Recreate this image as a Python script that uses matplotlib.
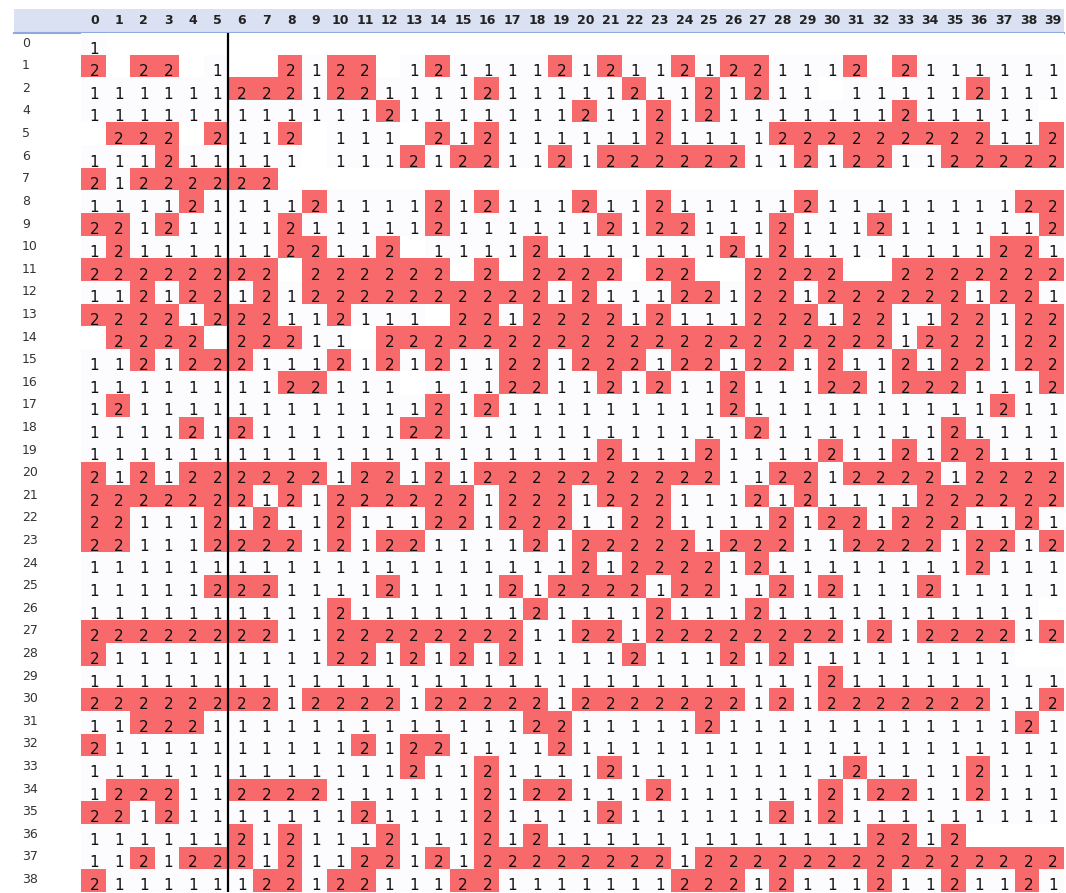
import matplotlib
matplotlib.use("Agg")
import matplotlib.pyplot as plt
import matplotlib.transforms as mtransforms
from matplotlib.colors import ListedColormap
from matplotlib.patches import Rectangle
import numpy as np

# column headers 0..39, row labels (row 3 is not in the sheet)
col_labels = list(range(40))
row_labels = [0, 1, 2] + list(range(4, 39))

# one string per row, 40 cells, '.' = empty cell (spaces only for reading)
rows = [
    "1......... .......... .......... ..........",  # 0
    "2.22.1..21 22.1211112 1211212211 12.2111111",  # 1
    "1111112221 2211112111 1121121211 .111112111",  # 2
    "1111111111 1121111111 2112121111 111211111.",  # 4
    ".222.2112. 111.212111 1112111122 2222222112",  # 5
    "111211111. 1112122112 1222222112 1221122222",  # 6
    "21222222.. .......... .......... ..........",  # 7
    "1111211112 1111212111 2112111112 1111111122",  # 8
    "2212111121 1111211111 1212211121 1121111112",  # 9
    "1211111122 112.111121 1111112121 1111111221",  # 10
    "22222222.2 22222.2.22 22.22..222 2..2222222",  # 11
    "1121221212 2222222221 2111221221 2222221221",  # 12
    "2222122211 2111.22122 2212111222 1221122122",  # 13
    ".2222.2221 1.22222222 2222222222 2221222122",  # 14
    "1121222111 2121211221 2221221221 2112122122",  # 15
    "1111111122 111.111221 1212112111 2212221112",  # 16
    "1211111111 1111212111 1111112111 1111111211",  # 17
    "1111212111 1112211111 1111111211 1111121111",  # 18
    "1111111111 1111111111 1211121111 2112122111",  # 19
    "2121222222 1221212222 2222221122 1222212222",  # 20
    "2222222121 2222221222 1222111212 1111222222",  # 21
    "2211121211 2111221222 1122111121 2212221121",  # 22
    "2211122221 2122111121 2222212221 1222212212",  # 23
    "1111111111 1111111111 2122221211 1111112111",  # 24
    "1111122211 1121111212 2221221121 2111211111",  # 25
    "1111111111 2111111121 1112111211 111111111.",  # 26
    "2222222211 2222222211 2212222222 2121222212",  # 27
    "2111111111 2212121211 1121112121 11111111..",  # 28
    "1111111111 1111111111 1111111111 2111111111",  # 29
    "2222222212 2221222221 2222222121 2222222112",  # 30
    "1122211111 1111111122 1111121111 1111111121",  # 31
    "2111111111 1212211112 1111111111 1111111111",  # 32
    "1111111111 1112112111 1211111111 1211112111",  # 33
    "1222112222 1111112122 1112111111 2122112111",  # 34
    "2212111111 1211112111 1211111121 2111111111",  # 35
    "1111112121 1121112121 1111111111 112212....",  # 36
    "1121222121 1221212222 2222122222 2222222222",  # 37
    "2111111221 2211122111 1111222121 1121121121",  # 38
]

grid = np.array([[0 if ch == "." else int(ch) for ch in r.replace(" ", "")]
                 for r in rows])

W, H = 1066, 893
fig = plt.figure(figsize=(W / 100, H / 100), dpi=100)

# pixel-space background axes for the header band and labels
bg = fig.add_axes([0, 0, 1, 1])
bg.set_xlim(0, W)
bg.set_ylim(H, 0)
bg.axis("off")
bg.add_patch(Rectangle((14, 9), 1050, 23, color="#D9E1F2", lw=0))
bg.plot([14, 1064], [32.5, 32.5], color="#8EA9DB", lw=1.5)

left, right, top, bottom = 81, 1064, 33, 892
ax = fig.add_axes([left / W, 1 - bottom / H, (right - left) / W, (bottom - top) / H])
cmap = ListedColormap(["#FFFFFF", "#FCFCFF", "#F8696B"])
ax.imshow(grid, cmap=cmap, vmin=0, vmax=2, aspect="auto", interpolation="nearest")
ax.axis("off")

for i in range(grid.shape[0]):
    for j in range(grid.shape[1]):
        if grid[i, j]:
            ax.text(j + 0.05, i + 0.41, str(grid[i, j]), ha="center", va="baseline",
                    fontsize=11, color="#111111")

ax.axvline(5.5, color="black", lw=1.6)

# column headers
tr_head = mtransforms.blended_transform_factory(ax.transData, bg.transData)
for j, c in enumerate(col_labels):
    ax.text(j + 0.05, 20.5, str(c), transform=tr_head, ha="center", va="center",
            fontsize=9, fontweight="bold", color="#222222", clip_on=False)

# row labels
tr_row = mtransforms.blended_transform_factory(bg.transData, ax.transData)
for i, r in enumerate(row_labels):
    ax.text(22, i - 0.05, str(r), transform=tr_row, ha="left", va="center",
            fontsize=9, color="#333333", clip_on=False)

fig.savefig("out.png", dpi=100)
